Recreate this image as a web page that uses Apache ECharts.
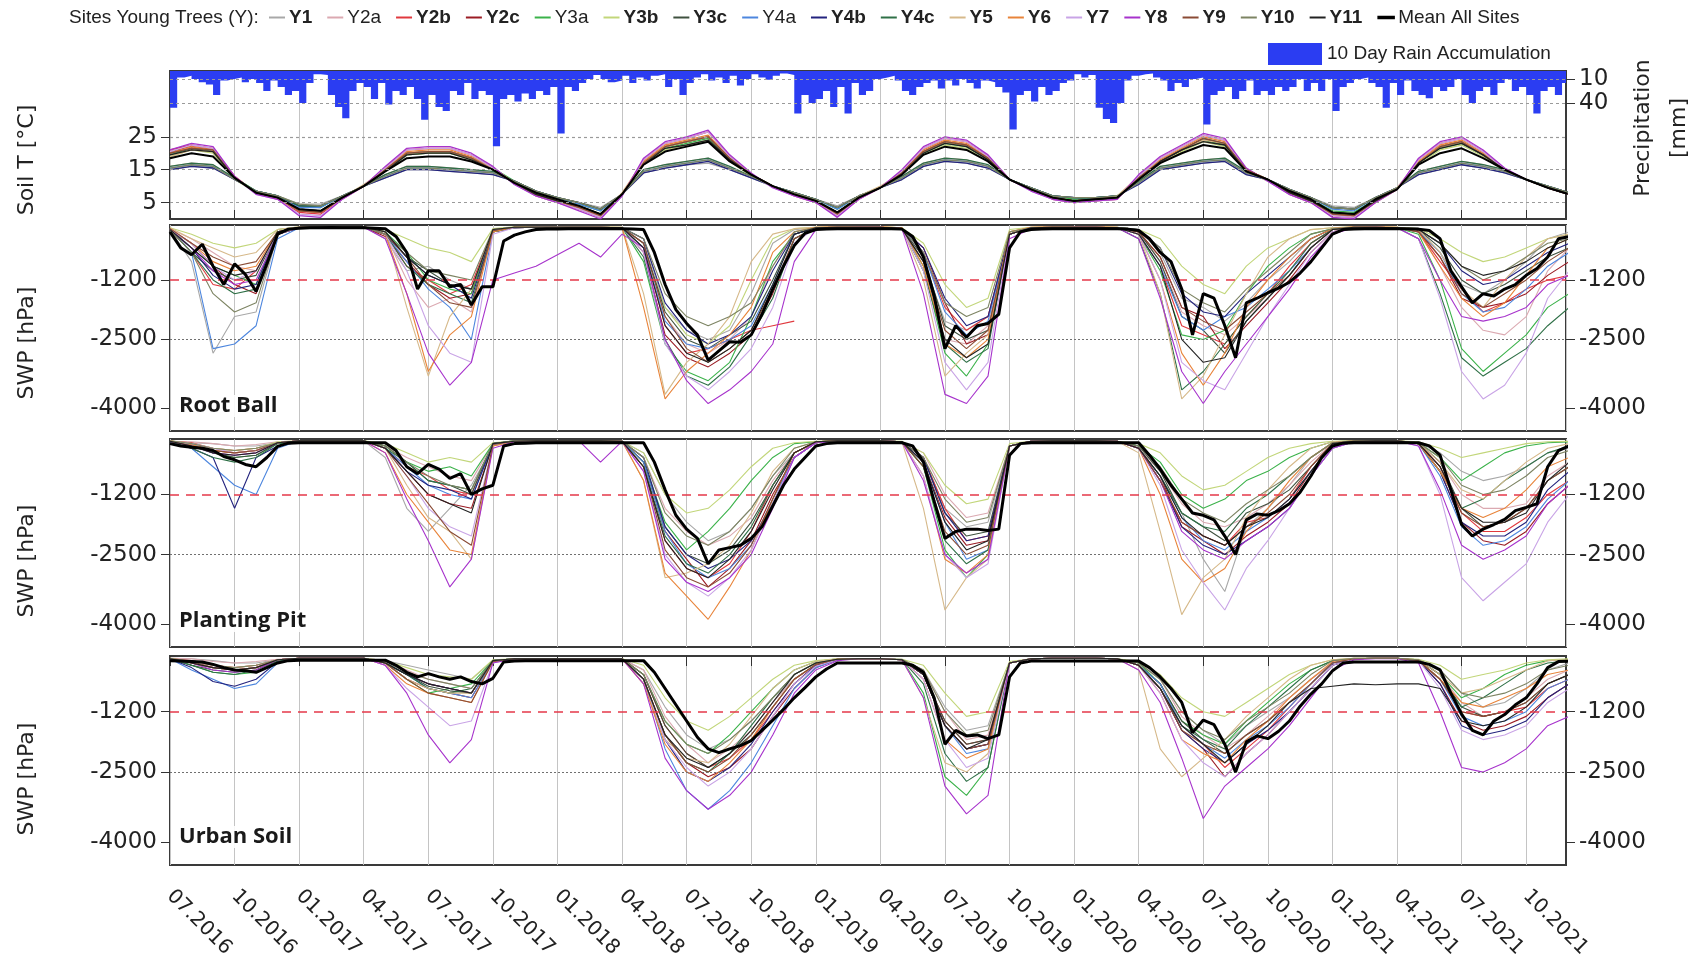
<!DOCTYPE html>
<html>
<head>
<meta charset="utf-8">
<title>Soil temperature and soil water potential of young trees</title>
<script src="https://cdn.jsdelivr.net/npm/echarts@6/dist/echarts.min.js"></script>
<style>
  html, body { margin: 0; padding: 0; background: #fff; }
  #chart { width: 1691px; height: 973px; }
</style>
</head>
<body>
<div id="chart"></div>
<script>
// quarterly tick labels, one every 3 months from 07.2016
const tickLabels = ['07.2016', '10.2016', '01.2017', '04.2017', '07.2017', '10.2017', '01.2018', '04.2018',
  '07.2018', '10.2018', '01.2019', '04.2019', '07.2019', '10.2019', '01.2020', '04.2020', '07.2020', '10.2020',
  '01.2021', '04.2021', '07.2021', '10.2021']

const siteNames = ['Y1', 'Y2a', 'Y2b', 'Y2c', 'Y3a', 'Y3b', 'Y3c', 'Y4a', 'Y4b', 'Y4c', 'Y5', 'Y6', 'Y7', 'Y8', 'Y9', 'Y10', 'Y11']
const siteColors = ['#a8a8a8', '#dba9b1', '#e0393e', '#9b1c24', '#3bb24a', '#c2d67a', '#3f513f', '#4d86de', '#23237e',
  '#2f7047', '#d6b98a', '#e8843a', '#c9a4e6', '#a733cc', '#8a4b35', '#7d8463', '#222222']
const siteBold = [true, false, true, true, false, true, true, false, true, true, true, true, true, true, true, true, true]

// 10 day rain accumulation [mm], three values per month from 07.2016
const rainAccum = [
  46,8,6, 10,14,17, 30,12,10, 8,14,10, 15,25,12, 20,30,25, 40,15,4, 5,30,45, 59,25,15, 20,35,15,
  42,25,30, 20,35,61, 30,45,50, 25,30,15, 35,25,30, 94,35,30, 38,28,35, 25,30,20, 78,20,25, 15,10,5,
  10,14,12, 6,15,8, 12,6,4, 20,10,30, 15,8,4, 12,8,15, 6,18,10, 4,8,11, 6,3,5, 53,30,40,
  35,25,45, 20,53,15, 30,25,10, 8,6,12, 25,30,20, 15,12,22, 12,18,10, 15,22,12, 14,20,27, 73,30,25,
  38,20,30, 25,15,12, 4,8,5, 46,60,65, 40,12,6, 4,3,8, 12,25,15, 20,10,8, 67,30,25, 20,35,25,
  12,30,25, 30,20,25, 20,10,25, 15,25,10, 50,20,15, 10,8,15, 20,46,15, 30,12,25, 30,34,20, 25,20,10,
  30,40,25, 20,30,15, 10,25,20, 30,53,25, 20,30,15, 18]

// soil temperature [°C], monthly from 07.2016
const tMean = [18.5,20,19,12.5,8, 6.5,3,2.5,6.5,10, 14.5,18.5,19,19,17.5, 15,11,8,6,4, 1.5,7.5,16.5,20.5,22, 23.5,17.5,13.5,10,7.5, 5.5,2,6.5,9.5,13.5, 19.5,22,21,17.5,12, 9,6.5,5.5,6,6.5, 12,17,20,22.5,21.5, 14.5,12,8.5,6,2, 1.5,6,9,16.5,20, 21.5,18.5,15,12,9.5, 7.5]
const tY1 = [15,16,15.5,12,8.5, 7,4.5,4.5,7,10, 12.5,15,15,14.5,14, 13.5,11.5,8.5,6.5,5, 3.5,7.5,14,15.5,16.5, 17,15,12.5,10,8, 6,4,7,9.5,12, 16,17.5,17,15.5,12, 9.5,7,6.5,6.5,7, 11,15,16,17,17.5, 13.5,12,9,6.5,4, 3.5,6.5,9.5,13.5,15, 16.5,15.5,14,12,10, 8]
const tY2a = [16,17,16.5,12,8.5, 7,4,4,7,10, 13.5,16,16,15.5,15, 14,11.5,8.5,6.5,5, 3,7.5,15,16.5,17.5, 18.5,15.5,13,10,8, 6,3.5,7,9.5,13, 17,18.5,18,16,12, 9.5,7,6.5,6.5,7, 11.5,16,17,18,18.5, 14,12,9,6.5,3.5, 3,6.5,9.5,14.5,16, 17.5,16.5,14.5,12,10, 8]
const tY2b = [21,22.5,21.5,13,8, 6,2,1.5,6,10, 15.5,21,21.5,21.5,19.5, 15.5,11,7,5,3, 0.5,7.5,18,23,24.5, 26.5,19,13.5,10,7, 5,1,6,9.5,14.5, 21.5,24.5,23.5,19,12, 9,6,5,5.5,6, 13,18.5,22,25.5,24, 15,12,7.5,5,1, 0.5,5,9,18,23, 24.5,20.5,15,12,9.5, 7.5]
const tY2c = [20.5,22,21,12.5,8, 6.5,2.5,2,6.5,10, 15,20,20.5,20.5,18.5, 15,11,7.5,5.5,3.5, 1,7.5,17,22,23.5, 25,18.5,13.5,10,7.5, 5.5,1.5,6.5,9.5,14, 20.5,23.5,22.5,18.5,12, 9,6.5,5.5,6,6.5, 12.5,17.5,21,24,23, 15,12,8,5.5,1.5, 1,5.5,9,17,22, 23.5,19.5,15,12,9.5, 7.5]
const tY3a = [19.5,21.5,20.5,12.5,8.5, 7,4,3.5,7,10, 14.5,19.5,20,20,18.5, 15.5,11.5,8,6,4.5, 2.5,7.5,17,21.5,23, 24.5,18,13.5,10,8, 6,3,7,9.5,13.5, 20,23,22,18,12, 9.5,7,6,6.5,7, 12,17.5,21,24,22.5, 15,12,8.5,6,2.5, 2,6,9,17,21.5, 23,19.5,15,12,9.5, 7.5]
const tY3b = [19,21,20,12,8, 6.5,3,2.5,6.5,10, 14.5,19.5,20,20,18, 15,11,7.5,5.5,4, 1.5,7.5,16.5,21,22.5, 24,17.5,13,10,7.5, 5.5,2,6.5,9.5,13.5, 19.5,22.5,21.5,17.5,12, 9,6.5,5.5,6,6.5, 12,17,20.5,23.5,22, 14.5,11.5,8,5.5,2, 1.5,5.5,9,16.5,21, 22.5,19,14.5,12,9.5, 7.5]
const tY3c = [20,21.5,20.5,12.5,8, 6.5,3,2.5,6.5,10, 15,20,20.5,20.5,18.5, 15,11,7.5,5.5,3.5, 1.5,7.5,17,22,23.5, 25,18,13.5,10,7.5, 5.5,2,6.5,9.5,14, 20.5,23.5,22.5,18,12, 9,6.5,5.5,6,6.5, 12.5,17.5,21,24.5,23, 15,12,8,5.5,1.5, 1,5.5,9,17,22, 23.5,19.5,15,12,9.5, 7.5]
const tY4a = [15.5,16.5,16,12,8.5, 7,3.5,3.5,7,10, 13,15.5,15.5,15,14.5, 14,11.5,8.5,6.5,4.5, 2.5,7.5,14.5,16,17, 18,15.5,13,10,8, 6,3,7,9.5,12.5, 16.5,18,17.5,16,12, 9.5,7,6.5,6.5,7, 11,15.5,16.5,17.5,18, 14,12,9,6.5,3, 2.5,6.5,9.5,14,15.5, 17,16,14.5,12,10, 8]
const tY4b = [15,16,15.5,12,8.5, 7,4,4,7,10, 12.5,15,15,14.5,14, 13.5,11.5,8.5,6.5,5, 3,7.5,14,15.5,16.5, 17.5,15,12.5,10,8, 6,3.5,7,9.5,12, 16,17.5,17,15.5,12, 9.5,7,6.5,6.5,7, 10.5,15,16,17,17.5, 13.5,12,9,6.5,3.5, 3,6.5,9.5,13.5,15, 16.5,15.5,14,12,10, 8]
const tY4c = [16,17,16.5,12.5,8.5, 7,4,4,7,10, 13.5,16,16,15.5,15, 14.5,11.5,8.5,6.5,5, 3,7.5,15,16.5,17.5, 18.5,16,13,10,8, 6,3.5,7,9.5,13, 17,18.5,18,16.5,12, 9.5,7,6.5,6.5,7, 11.5,16,17,18,18.5, 14.5,12,9,6.5,3.5, 3,6.5,9.5,14.5,16, 17.5,16.5,15,12,10, 8]
const tY5 = [19,21,20.5,12.5,8, 6.5,2.5,2,6.5,10.5, 15,20,20.5,20.5,18.5, 15.5,11,7.5,5.5,3.5, 1,8,17.5,22,23.5, 25,18.5,13.5,10,7.5, 5.5,1.5,7,10,14, 20.5,23.5,22.5,18.5,12, 9,6.5,5.5,6,7, 13,18,21,24,23, 15,12,8,5.5,1.5, 1,6,9.5,17.5,22, 23.5,20,15,12,9.5, 7.5]
const tY6 = [20,22,21,12.5,8, 6.5,2.5,2,6.5,10, 15,20.5,21,21,19, 15.5,11,7.5,5.5,3.5, 1,7.5,17.5,22.5,24, 25.5,18.5,13.5,10,7.5, 5.5,1.5,6.5,9.5,14, 21,24,23,18.5,12, 9,6.5,5.5,6,6.5, 12.5,18,21.5,25,23.5, 15,12,8,5.5,1.5, 1,5.5,9,17.5,22.5, 24,20,15,12,9.5, 7.5]
const tY7 = [20.5,22.5,21.5,12.5,7.5, 6,1.5,1,6,10, 15.5,21,21.5,21.5,19.5, 15.5,10.5,7,5,3, 0.5,7,18,23,24.5, 26.5,19,13.5,9.5,7, 5,1,6,9.5,14.5, 21.5,24.5,23.5,19,12, 8.5,6,5,5.5,6, 13,18.5,22,25.5,24, 15,11.5,7.5,5,1, 0.5,5,9,18,23, 24.5,20.5,15,12,9.5, 7.5]
const tY8 = [21,23,22,13,7.5, 6,1,0.5,6,10, 16,21.5,22,22,20, 16,10.5,7,5,2.5, 0,7,18.5,23.5,25, 27,19.5,14,9.5,7, 5,0.5,6,9.5,15, 22,25,24,19.5,12, 8.5,6,5,5.5,6, 13.5,19,22.5,26,24.5, 15.5,11.5,7.5,5,0.5, 0,5,9,18.5,23.5, 25,21,15.5,12,9.5, 7.5]
const tY9 = [20,21.5,21,12.5,8, 6.5,2.5,2,6.5,10, 15,20,20.5,20.5,18.5, 15,11,7.5,5.5,3.5, 1,7.5,17,22,23.5, 25,18.5,13.5,10,7.5, 5.5,1.5,6.5,9.5,14, 20.5,23.5,22.5,18.5,12, 9,6.5,5.5,6,6.5, 12.5,17.5,21,24.5,23, 15,12,8,5.5,1.5, 1,5.5,9,17,22, 23.5,19.5,15,12,9.5, 7.5]
const tY10 = [15.5,16.5,16,12,8.5, 7,4.5,4,7,10, 13,15.5,15.5,15,14.5, 14,11.5,8.5,6.5,5, 3,7.5,14.5,16,17, 18,15.5,13,10,8, 6,3.5,7,9.5,12.5, 16.5,18,17.5,16,12, 9.5,7,6.5,6.5,7, 11,15.5,16.5,17.5,18, 14,12,9,6.5,3.5, 3,6.5,9.5,14,15.5, 17,16,14.5,12,10, 8]
const tY11 = [19.5,21,20.5,12.5,8, 6.5,3,2.5,6.5,10, 14.5,19.5,20,20,18, 15,11,7.5,5.5,4, 1.5,7.5,16.5,21.5,22.5, 24,18,13.5,10,7.5, 5.5,2,6.5,9.5,13.5, 20,23,22,18,12, 9,6.5,5.5,6,6.5, 12,17.5,21,23.5,22.5, 14.5,12,8,5.5,2, 1.5,5.5,9,17,21.5, 23,19.5,15,12,9.5, 7.5]

// soil water potential [hPa], mean of all sites, every half month from 07.2016
const rbMean = [-150,-500,-650,-420,-900,-1300,-850,-1080,-1450,-850,-200,-90,
  -70,-60,-60,-55,-60,-60,-60,-70,-80,
  -250,-600,-1400,-1000,-1000,-1350,-1300,-1750,-1350,-1350,-350,-220,-150,
  -100,-90,-90,-80,-80,-80,-80,-80,-80,-90,-100,
  -600,-1300,-1850,-2150,-2400,-2950,-2750,-2550,-2560,-2400,-1950,-1400,-900,-450,-180,
  -100,-90,-80,-80,-80,-80,-80,-80,-90,
  -250,-700,-1550,-2700,-2200,-2450,-2200,-2150,-1950,-500,-150,
  -100,-90,-80,-80,-80,-80,-80,-80,-80,-90,-120,
  -300,-600,-800,-1400,-2400,-1500,-1600,-2200,-2900,-1700,-1600,-1480,-1380,-1250,-1050,-800,-500,-200,-100,
  -90,-80,-80,-80,-80,-80,-90,-120,
  -300,-1000,-1350,-1700,-1500,-1550,-1400,-1300,-1100,-950,-700,-300,-250]
const ppMean = [-100,-150,-180,-200,-250,-380,-450,-550,-600,-400,-160,-90,
  -80,-80,-80,-80,-80,-80,-80,-80,-80,
  -250,-600,-750,-550,-650,-850,-750,-1200,-1080,-1000,-150,-100,-90,
  -80,-80,-80,-80,-80,-80,-80,-80,-80,-80,-80,
  -500,-1100,-1650,-1950,-2150,-2700,-2400,-2350,-2300,-2150,-1900,-1450,-1000,-650,-400,
  -150,-100,-80,-80,-80,-80,-80,-80,-80,
  -150,-500,-1350,-2150,-2000,-1950,-1950,-1980,-1950,-350,-100,
  -80,-80,-80,-80,-80,-80,-80,-80,-80,-80,-80,
  -350,-650,-1000,-1300,-1600,-1650,-1750,-2100,-2500,-1750,-1620,-1650,-1550,-1400,-1150,-800,-400,-150,-90,
  -80,-80,-80,-80,-80,-80,-80,-150,
  -350,-1100,-1850,-2100,-1950,-1850,-1740,-1550,-1480,-1400,-600,-250,-150]
const usMean = [-100,-110,-120,-130,-180,-250,-300,-320,-350,-250,-150,-100,
  -90,-90,-90,-90,-90,-90,-90,-90,-90,
  -200,-350,-450,-380,-450,-500,-450,-550,-600,-480,-130,-110,-100,
  -100,-100,-100,-100,-100,-100,-100,-100,-100,-100,-100,
  -350,-700,-1050,-1400,-1750,-2000,-2080,-2000,-1930,-1820,-1600,-1380,-1150,-900,-680,
  -450,-280,-150,-150,-150,-150,-150,-150,-150,
  -200,-350,-900,-1900,-1600,-1720,-1700,-1780,-1700,-450,-150,
  -110,-110,-110,-110,-110,-110,-110,-110,-110,-110,-110,
  -250,-450,-700,-1000,-1650,-1380,-1480,-1900,-2500,-1850,-1720,-1780,-1620,-1400,-1080,-820,-600,-320,-150,
  -130,-130,-130,-130,-130,-130,-130,-180,
  -300,-800,-1250,-1600,-1700,-1400,-1260,-1050,-900,-600,-250,-120,-110]

// soil water potential [hPa] per site, monthly from 07.2016 -- Root Ball
const rbY1 = [-100,-800,-2800,-2000,-1900, -200,-50,-40,-40,-40, -300,-1000,-900,-1200,-1400, -150,-60,-50,-50,-50, -50,-60,-300,-1800,-2300, -2500,-2300,-1500,-400,-100, -60,-50,-50,-50,-80, -800,-2100,-2300,-2000,-150, -60,-50,-50,-50,-50, -100,-600,-1600,-1800,-2100, -1700,-1200,-800,-300,-80, -50,-50,-60,-100,-600, -1300,-1500,-1200,-800,-300, -150]
const rbY2a = [-80,-300,-600,-900,-1000, -150,-50,-40,-40,-40, -200,-1200,-1800,-1600,-1900, -100,-50,-50,-50,-50, -50,-50,-400,-2000,-2600, -2800,-2500,-2000,-900,-200, -60,-50,-50,-50,-100, -1000,-2500,-2600,-2200,-200, -60,-50,-50,-50,-60, -150,-800,-1900,-2200,-2400, -2000,-1600,-1000,-400,-100, -50,-50,-60,-150,-900, -1800,-2300,-2400,-2000,-1000, -500]
const rbY2b = [-100,-600,-1300,-1400,-1000, -200,-60,-50,-50,-50, -200,-900,-1200,-1500,-1300, -120,-60,-50,-50,-50, -60,-60,-500,-2200,-2800, -2700,-2500,-2300,-2200,-2100, null,-60,-50,-50,-80, -600,-1800,-2300,-2000,-200, -60,-50,-50,-50,-60, -200,-900,-2200,-2400,-2600, -2000,-1500,-900,-400,-100, -50,-50,-60,-150,-800, -1400,-1900,-1700,-1400,-1200, -1100]
const rbY2c = [-100,-400,-900,-1300,-1500, -200,-60,-50,-50,-50, -250,-800,-1300,-1600,-1500, -150,-60,-50,-50,-50, -50,-60,-600,-2400,-2900, -3100,-2800,-2400,-1500,-300, -60,-50,-50,-50,-80, -500,-1700,-2600,-2400,-200, -60,-50,-50,-50,-60, -150,-700,-1800,-2000,-2700, -2200,-1700,-1200,-600,-150, -50,-50,-60,-120,-700, -1600,-1800,-1700,-1500,-1100, -800]
const rbY3a = [-80,-500,-900,-1100,-1300, -100,-50,-40,-40,-40, -150,-600,-1200,-1400,-1500, -100,-50,-50,-50,-50, -50,-60,-800,-2600,-3200, -3400,-3000,-2000,-800,-200, -60,-50,-50,-50,-80, -900,-2800,-3300,-2600,-200, -60,-50,-50,-50,-60, -200,-1000,-2400,-2500,-2300, -1500,-900,-500,-200,-80, -50,-50,-60,-200,-1200, -2700,-3200,-2800,-2400,-1800, -1500]
const rbY3b = [-60,-200,-400,-500,-400, -100,-40,-40,-40,-40, -100,-300,-500,-600,-800, -80,-40,-40,-40,-40, -40,-50,-500,-1800,-2400, -2600,-2200,-1200,-300,-80, -50,-40,-40,-40,-60, -400,-1300,-1800,-1600,-100, -50,-40,-40,-40,-50, -100,-300,-900,-1300,-1500, -900,-500,-300,-100,-60, -40,-40,-50,-80,-300, -600,-800,-700,-500,-300, -200]
const rbY3c = [-100,-600,-1000,-1200,-1100, -150,-50,-40,-40,-40, -150,-700,-1000,-1300,-1400, -100,-50,-50,-50,-50, -50,-60,-400,-1900,-2500, -2700,-2400,-2100,-1200,-200, -60,-50,-50,-50,-80, -700,-2200,-2500,-2300,-200, -60,-50,-50,-50,-60, -150,-800,-2000,-2300,-2800, -2100,-1600,-1100,-500,-100, -50,-50,-60,-100,-500, -1200,-1500,-1300,-1000,-700, -500]
const rbY4a = [-80,-600,-2700,-2600,-2200, -300,-60,-50,-50,-50, -200,-800,-1400,-1800,-2500, -150,-60,-50,-50,-50, -50,-60,-500,-2100,-2600, -2700,-2500,-2200,-1300,-200, -60,-50,-50,-50,-80, -600,-1900,-2400,-2100,-200, -60,-50,-50,-50,-60, -200,-900,-2000,-2300,-2000, -1800,-1400,-1000,-500,-100, -50,-50,-60,-150,-600, -1500,-1900,-1800,-1400,-900, -600]
const rbY4b = [-100,-500,-1100,-1400,-1300, -200,-60,-50,-50,-50, -200,-700,-1100,-1300,-1600, -120,-60,-50,-50,-50, -50,-60,-300,-1700,-2300, -2600,-2400,-2000,-1000,-200, -60,-50,-50,-50,-80, -500,-1600,-2200,-2000,-200, -60,-50,-50,-50,-60, -100,-500,-1500,-1900,-2000, -1500,-1100,-700,-300,-80, -50,-50,-60,-100,-400, -1000,-1300,-1200,-900,-600, -400]
const rbY4c = [-100,-600,-1200,-1500,-1400, -200,-60,-50,-50,-50, -200,-900,-1300,-1500,-1700, -150,-60,-50,-50,-50, -50,-60,-700,-2500,-3300, -3500,-3100,-2400,-1600,-300, -60,-50,-50,-50,-80, -1000,-2600,-3000,-2700,-200, -60,-50,-50,-50,-60, -300,-1500,-3600,-3200,-2600, -2000,-1500,-1000,-400,-100, -50,-50,-60,-300,-1500, -2900,-3300,-3000,-2700,-2200, -1800]
const rbY5 = [-60,-300,-500,-700,-600, -100,-40,-40,-40,-40, -150,-1800,-3300,-2000,-1400, -100,-50,-50,-50,-50, -40,-50,-1500,-3700,-3000, -2600,-2000,-800,-200,-80, -50,-40,-40,-40,-60, -1200,-3300,-2800,-2400,-150, -50,-40,-40,-40,-50, -200,-1500,-3800,-3300,-2400, -1500,-700,-300,-100,-60, -40,-40,-50,-100,-600, -1400,-1800,-1200,-700,-300, -200]
const rbY6 = [-80,-400,-800,-1000,-900, -150,-50,-40,-40,-40, -200,-1500,-3200,-2400,-2000, -150,-50,-50,-50,-50, -50,-60,-1800,-3800,-3200, -2800,-2400,-1800,-600,-150, -50,-40,-40,-40,-60, -900,-2600,-2900,-2500,-150, -50,-40,-40,-40,-50, -200,-1200,-2800,-3500,-2800, -1800,-1200,-700,-300,-80, -40,-40,-50,-150,-900, -1600,-2000,-1700,-1100,-500, -300]
const rbY7 = [-100,-400,-900,-1200,-1000, -200,-50,-40,-40,-40, -200,-1000,-2200,-2800,-3000, -200,-60,-50,-50,-50, -50,-60,-600,-2600,-3300, -3600,-3200,-2700,-1800,-400, -60,-50,-50,-50,-80, -1000,-3000,-3600,-3000,-200, -60,-50,-50,-50,-60, -200,-1200,-3000,-3400,-3600, -2800,-2000,-1300,-600,-150, -50,-50,-60,-300,-1600, -3200,-3800,-3500,-2800,-1600, -1000]
const rbY8 = [-100,-500,-1000,-1300,-1200, -200,-60,-50,-50,-50, -300,-1500,-2800,-3500,-3000, -1200,-1050,-900,-650,-400, -700,-200,-500,-2500,-3400, -3900,-3600,-3200,-2600,-800, -100,-60,-50,-50,-80, -1500,-3700,-3900,-3300,-300, -80,-60,-50,-50,-60, -300,-1600,-3200,-3900,-3200, -2600,-2000,-1400,-700,-200, -60,-50,-60,-300,-1200, -2000,-2100,-2000,-1800,-1300, -1100]
const rbY9 = [-80,-400,-700,-900,-800, -150,-50,-40,-40,-40, -200,-700,-1300,-1700,-1800, -120,-50,-50,-50,-50, -50,-60,-400,-2000,-2700, -3000,-2700,-2300,-1400,-300, -60,-50,-50,-50,-80, -800,-2300,-2700,-2300,-200, -60,-50,-50,-50,-60, -150,-700,-1800,-2100,-2300, -1900,-1500,-1100,-500,-100, -50,-50,-60,-150,-700, -1500,-1800,-1500,-1200,-800, -500]
const rbY10 = [-100,-600,-1500,-1900,-1700, -200,-50,-40,-40,-40, -200,-600,-1000,-1100,-1200, -100,-50,-50,-50,-50, -50,-60,-300,-1500,-2000, -2200,-2000,-1700,-900,-150, -60,-50,-50,-50,-80, -600,-1700,-2000,-1800,-150, -60,-50,-50,-50,-60, -100,-500,-1400,-1700,-1900, -1400,-1000,-600,-200,-80, -50,-50,-60,-100,-400, -900,-1200,-1000,-700,-400, -300]
const rbY11 = [-100,-500,-900,-1100,-1000, -150,-50,-40,-40,-40, -150,-700,-1100,-1300,-1400, -100,-50,-50,-50,-50, -50,-60,-500,-2200,-2800, -3000,-2700,-2300,-1300,-200, -60,-50,-50,-50,-80, -800,-2500,-2900,-2600,-200, -60,-50,-50,-50,-60, -200,-900,-2500,-3000,-2900, -2100,-1600,-1100,-500,-100, -50,-50,-60,-100,-400, -900,-1100,-1000,-800,-500, -300]

// Planting Pit
const ppY1 = [-50,-80,-100,-150,-150, -80,-40,-40,-40,-40, -400,-1500,-2000,-1500,-1000, -150,-50,-40,-40,-40, -40,-50,-300,-1200,-1800, -2200,-2000,-1500,-800,-300, -80,-40,-40,-40,-60, -400,-1500,-1900,-1800,-150, -50,-40,-40,-40,-50, -200,-800,-1600,-2600,-3300, -1900,-1500,-1000,-400,-100, -50,-40,-40,-80,-300, -700,-900,-800,-600,-300, -200]
const ppY2a = [-50,-60,-100,-150,-120, -60,-40,-40,-40,-40, -150,-400,-600,-800,-900, -100,-50,-40,-40,-40, -40,-50,-400,-1500,-2000, -2300,-2100,-1700,-900,-300, -80,-40,-40,-40,-60, -300,-1200,-1700,-1600,-150, -50,-40,-40,-40,-50, -200,-700,-1400,-1800,-1900, -1700,-1400,-1000,-500,-100, -50,-40,-40,-80,-500, -1200,-1500,-1500,-1400,-800, -500]
const ppY2b = [-50,-80,-200,-250,-200, -80,-40,-40,-40,-40, -200,-600,-800,-1100,-1200, -100,-50,-40,-40,-40, -40,-50,-600,-2200,-2800, -3000,-2700,-2000,-1000,-300, -80,-40,-40,-40,-60, -400,-1500,-2200,-2100,-150, -50,-40,-40,-40,-50, -200,-900,-1800,-2100,-2300, -1800,-1700,-1300,-600,-100, -50,-40,-40,-80,-600, -1600,-2000,-2000,-1700,-1200, -900]
const ppY2c = [-50,-100,-250,-300,-250, -80,-40,-40,-40,-40, -200,-700,-1200,-1400,-1500, -120,-50,-40,-40,-40, -40,-50,-500,-2000,-2600, -3200,-2800,-2200,-1200,-400, -80,-40,-40,-40,-60, -500,-1700,-2300,-2200,-150, -50,-40,-40,-40,-50, -200,-800,-1900,-2200,-2500, -2100,-1800,-1400,-700,-150, -50,-40,-40,-100,-700, -1800,-2200,-2300,-2000,-1400, -1000]
const ppY3a = [-40,-150,-300,-400,-350, -100,-40,-40,-40,-40, -150,-500,-700,-600,-800, -100,-40,-40,-40,-40, -40,-50,-500,-1800,-2400, -2000,-1500,-900,-400,-100, -60,-40,-40,-40,-60, -600,-2400,-3000,-2500,-150, -50,-40,-40,-40,-50, -150,-500,-1200,-1500,-1300, -900,-700,-400,-200,-60, -40,-40,-40,-80,-400, -900,-600,-300,-150,-80, -60]
const ppY3b = [-40,-100,-200,-250,-200, -60,-40,-40,-40,-40, -100,-300,-500,-400,-500, -80,-40,-40,-40,-40, -40,-50,-300,-1200,-1600, -1500,-1100,-600,-200,-80, -50,-40,-40,-40,-50, -300,-1000,-1400,-1300,-100, -50,-40,-40,-40,-50, -100,-300,-800,-1100,-1000, -700,-400,-200,-100,-50, -40,-40,-40,-60,-200, -400,-300,-200,-100,-60, -50]
const ppY3c = [-50,-120,-300,-400,-350, -80,-40,-40,-40,-40, -150,-500,-900,-1000,-1200, -100,-40,-40,-40,-40, -40,-50,-500,-1900,-2500, -2700,-2400,-1800,-1000,-300, -60,-40,-40,-40,-60, -400,-1600,-2100,-2000,-150, -50,-40,-40,-40,-50, -150,-700,-1600,-1900,-2200, -1600,-1400,-1100,-600,-100, -50,-40,-40,-80,-500, -1500,-1900,-1800,-1500,-900, -600]
const ppY4a = [-50,-200,-600,-1000,-1200, -200,-40,-40,-40,-40, -200,-600,-1000,-1200,-1300, -120,-50,-40,-40,-40, -40,-50,-500,-2000,-2700, -3000,-2800,-2300,-1300,-400, -80,-40,-40,-40,-60, -500,-1800,-2600,-2400,-150, -50,-40,-40,-40,-50, -200,-800,-1700,-2200,-2400, -2000,-1700,-1300,-700,-150, -50,-40,-40,-100,-800, -1900,-2300,-2200,-1900,-1300, -900]
const ppY4b = [-80,-200,-400,-1500,-400, -150,-50,-40,-40,-40, -200,-700,-1000,-1100,-1300, -100,-50,-40,-40,-40, -40,-50,-400,-1900,-2500, -2800,-2600,-2200,-1400,-400, -80,-40,-40,-40,-60, -400,-1600,-2200,-2100,-150, -50,-40,-40,-40,-50, -200,-900,-1900,-2300,-2500, -2200,-1900,-1500,-800,-200, -60,-40,-40,-100,-700, -1800,-2100,-2100,-1800,-1100, -700]
const ppY4c = [-50,-200,-400,-500,-400, -100,-40,-40,-40,-40, -200,-500,-900,-1000,-1100, -100,-50,-40,-40,-40, -40,-50,-600,-2100,-2700, -2900,-2500,-1900,-1000,-300, -60,-40,-40,-40,-60, -600,-2200,-2700,-2400,-150, -50,-40,-40,-40,-50, -200,-800,-1600,-1900,-2000, -1500,-1200,-800,-400,-80, -40,-40,-40,-100,-700, -1500,-1300,-900,-600,-300, -150]
const ppY5 = [-40,-100,-200,-300,-250, -80,-40,-40,-40,-40, -200,-1000,-1700,-2000,-2600, -150,-50,-40,-40,-40, -40,-50,-900,-3000,-2900, -2700,-2300,-1600,-700,-200, -60,-40,-40,-40,-60, -1500,-3700,-3000,-2600,-150, -50,-40,-40,-40,-50, -300,-2000,-3800,-3000,-2600, -1700,-1100,-600,-200,-60, -40,-40,-40,-80,-500, -1100,-1300,-900,-500,-200, -100]
const ppY6 = [-40,-120,-250,-300,-250, -80,-40,-40,-40,-40, -300,-1200,-1800,-2400,-2500, -150,-50,-40,-40,-40, -40,-50,-900,-2900,-3400, -3900,-3200,-2400,-1300,-300, -60,-40,-40,-40,-60, -800,-2600,-2900,-2500,-150, -50,-40,-40,-40,-50, -200,-1200,-2600,-3100,-2800, -2000,-1500,-900,-400,-80, -40,-40,-40,-100,-700, -1500,-1700,-1500,-1100,-600, -400]
const ppY7 = [-50,-100,-200,-300,-250, -80,-40,-40,-40,-40, -200,-800,-1500,-1900,-2100, -120,-50,-40,-40,-40, -40,-50,-700,-2500,-3100, -3400,-3000,-2400,-1400,-400, -80,-40,-40,-40,-60, -800,-2500,-3000,-2700,-150, -50,-40,-40,-40,-50, -200,-1000,-2400,-3100,-3700, -2800,-2200,-1500,-800,-200, -60,-40,-40,-150,-1200, -3000,-3500,-3100,-2700,-1800, -1200]
const ppY8 = [-50,-150,-300,-350,-300, -80,-40,-40,-40,-40, -300,-1300,-2200,-3200,-2600, -200,-60,-40,-40,-40, -500,-50,-700,-2600,-3100, -3300,-3000,-2500,-1500,-400, -80,-40,-40,-40,-60, -900,-2500,-2900,-2600,-150, -50,-40,-40,-40,-50, -200,-900,-2000,-2400,-2600, -2200,-1900,-1500,-800,-200, -60,-40,-40,-150,-1100, -2300,-2600,-2400,-2100,-1400, -1000]
const ppY9 = [-50,-150,-250,-300,-250, -80,-40,-40,-40,-40, -200,-800,-1400,-2000,-2300, -120,-50,-40,-40,-40, -40,-50,-600,-2400,-3000, -3200,-2900,-2300,-1300,-300, -60,-40,-40,-40,-60, -600,-2000,-2500,-2300,-150, -50,-40,-40,-40,-50, -200,-900,-1800,-2100,-2300, -1900,-1600,-1200,-600,-100, -50,-40,-40,-100,-600, -1600,-1900,-1800,-1500,-900, -600]
const ppY10 = [-40,-100,-200,-250,-200, -80,-40,-40,-40,-40, -150,-500,-800,-1000,-1100, -100,-40,-40,-40,-40, -40,-50,-400,-1600,-2100, -2300,-2000,-1500,-800,-200, -60,-40,-40,-40,-60, -400,-1300,-1800,-1700,-150, -50,-40,-40,-40,-50, -150,-600,-1300,-1600,-1800, -1400,-1100,-800,-400,-80, -40,-40,-40,-80,-400, -1000,-1200,-1100,-800,-400, -250]
const ppY11 = [-50,-150,-300,-350,-300, -80,-40,-40,-40,-40, -200,-700,-1200,-1400,-1600, -100,-50,-40,-40,-40, -40,-50,-600,-2200,-2800, -3000,-2600,-2000,-1100,-300, -60,-40,-40,-40,-60, -500,-1800,-2400,-2200,-150, -50,-40,-40,-40,-50, -200,-800,-1700,-2100,-2300, -1900,-1700,-1300,-700,-100, -50,-40,-40,-100,-600, -1500,-1800,-1800,-1600,-900, -500]

// Urban Soil
const usY1 = [-50,-60,-100,-150,-150, -80,-50,-50,-50,-50, -100,-200,-300,-400,-500, -100,-60,-60,-60,-60, -60,-60,-300,-1100,-1700, -2000,-1800,-1400,-900,-500, -200,-80,-60,-60,-80, -300,-1100,-1600,-1500,-150, -60,-50,-50,-50,-60, -150,-500,-1200,-1600,-1900, -1500,-1200,-900,-500,-150, -60,-50,-50,-80,-300, -800,-1100,-1000,-700,-300, -150]
const usY2a = [-50,-60,-120,-150,-120, -70,-50,-50,-50,-50, -100,-300,-500,-600,-700, -100,-60,-60,-60,-60, -60,-60,-300,-1300,-1900, -2300,-2000,-1600,-1000,-500, -200,-80,-60,-60,-80, -300,-1200,-1800,-1700,-150, -60,-50,-50,-50,-60, -150,-500,-1300,-1700,-2000, -1700,-1300,-900,-500,-150, -60,-50,-50,-80,-400, -1000,-1300,-1200,-900,-500, -300]
const usY2b = [-60,-100,-200,-250,-200, -80,-50,-50,-50,-50, -150,-400,-600,-700,-800, -120,-60,-60,-60,-60, -60,-60,-400,-1500,-2100, -2400,-2200,-1800,-1200,-600, -200,-80,-60,-60,-80, -400,-1400,-1900,-1800,-150, -60,-50,-50,-50,-60, -200,-600,-1500,-1900,-2400, -2000,-1600,-1100,-600,-150, -60,-50,-50,-100,-500, -1200,-1300,-1200,-1100,-700, -500]
const usY2c = [-60,-120,-250,-300,-250, -80,-50,-50,-50,-50, -150,-500,-700,-800,-900, -120,-60,-60,-60,-60, -60,-60,-500,-1700,-2300, -2600,-2400,-2000,-1300,-700, -250,-80,-60,-60,-80, -400,-1500,-2000,-1900,-150, -60,-50,-50,-50,-60, -200,-700,-1600,-2000,-2600, -2100,-1700,-1200,-700,-200, -60,-50,-50,-100,-600, -1400,-1600,-1500,-1300,-900, -600]
const usY3a = [-60,-200,-350,-400,-350, -100,-50,-50,-50,-50, -150,-500,-800,-700,-600, -100,-60,-60,-60,-60, -60,-60,-400,-1400,-1900, -2100,-1700,-1200,-700,-300, -120,-60,-60,-60,-80, -800,-2600,-3000,-2400,-150, -60,-50,-50,-50,-60, -150,-600,-1400,-1700,-1900, -1400,-1000,-600,-300,-100, -60,-50,-50,-80,-400, -900,-700,-400,-200,-100, -80]
const usY3b = [-50,-150,-250,-300,-250, -80,-50,-50,-50,-50, -100,-250,-400,-450,-500, -80,-60,-60,-60,-60, -60,-60,-200,-900,-1400, -1600,-1300,-900,-500,-200, -100,-60,-60,-60,-70, -200,-800,-1300,-1200,-120, -60,-50,-50,-50,-60, -120,-400,-900,-1200,-1300, -1000,-700,-400,-200,-80, -50,-50,-50,-70,-200, -500,-400,-300,-150,-80, -60]
const usY3c = [-60,-200,-300,-350,-300, -80,-50,-50,-50,-50, -150,-400,-650,-750,-800, -100,-60,-60,-60,-60, -60,-60,-400,-1500,-2100, -2400,-2100,-1700,-1100,-500, -180,-70,-60,-60,-80, -400,-1400,-1900,-1800,-150, -60,-50,-50,-50,-60, -200,-600,-1400,-1800,-2100, -1700,-1400,-1000,-600,-150, -60,-50,-50,-90,-400, -1100,-1300,-1200,-1000,-600, -400]
const usY4a = [-60,-300,-500,-700,-600, -150,-50,-50,-50,-50, -150,-400,-700,-800,-900, -120,-60,-60,-60,-60, -60,-60,-500,-2000,-2900, -3300,-2900,-2300,-1500,-700, -250,-80,-60,-60,-80, -400,-1500,-2100,-2000,-150, -60,-50,-50,-50,-60, -200,-600,-1500,-1900,-2200, -1800,-1500,-1100,-600,-150, -60,-50,-50,-100,-500, -1300,-1500,-1400,-1200,-700, -500]
const usY4b = [-60,-250,-550,-650,-500, -120,-50,-50,-50,-50, -150,-400,-600,-700,-800, -100,-60,-60,-60,-60, -60,-60,-500,-1800,-2500, -2700,-2400,-1900,-1200,-600, -200,-80,-60,-60,-80, -400,-1500,-2000,-1900,-150, -60,-50,-50,-50,-60, -200,-700,-1600,-2000,-2300, -1900,-1600,-1200,-700,-200, -60,-50,-50,-100,-600, -1500,-1700,-1600,-1400,-900, -600]
const usY4c = [-60,-200,-350,-400,-300, -100,-50,-50,-50,-50, -150,-400,-700,-800,-700, -100,-60,-60,-60,-60, -60,-60,-500,-1700,-2300, -2500,-2100,-1500,-900,-400, -150,-70,-60,-60,-80, -600,-2100,-2700,-2400,-150, -60,-50,-50,-50,-60, -200,-700,-1500,-1800,-2000, -1500,-1100,-700,-300,-100, -60,-50,-50,-100,-500, -1100,-900,-600,-300,-150, -100]
const usY5 = [-50,-120,-200,-250,-200, -80,-50,-50,-50,-50, -150,-500,-700,-800,-800, -100,-60,-60,-60,-60, -60,-60,-600,-1800,-2200, -2300,-1900,-1300,-700,-300, -120,-60,-60,-60,-80, -900,-2300,-2500,-2100,-150, -60,-50,-50,-50,-60, -300,-2000,-2600,-2200,-1800, -1300,-900,-500,-200,-80, -50,-50,-50,-80,-400, -800,-700,-500,-300,-100, -80]
const usY6 = [-50,-150,-250,-300,-250, -80,-50,-50,-50,-50, -200,-600,-800,-900,-1000, -120,-60,-60,-60,-60, -60,-60,-600,-1900,-2500, -2700,-2300,-1800,-1100,-500, -180,-70,-60,-60,-80, -500,-1800,-2200,-2000,-150, -60,-50,-50,-50,-60, -200,-800,-1800,-2100,-2300, -1800,-1400,-900,-500,-120, -60,-50,-50,-90,-500, -1000,-1100,-900,-700,-400, -300]
const usY7 = [-60,-150,-250,-300,-250, -80,-50,-50,-50,-50, -200,-700,-1100,-1500,-1400, -150,-60,-60,-60,-60, -60,-60,-500,-1800,-2400, -2800,-2500,-2000,-1300,-600, -220,-80,-60,-60,-80, -500,-1800,-2400,-2200,-150, -60,-50,-50,-50,-60, -200,-800,-1800,-2300,-2600, -2100,-1700,-1200,-700,-200, -60,-50,-50,-100,-700, -1600,-1800,-1700,-1500,-1000, -700]
const usY8 = [-60,-150,-300,-350,-300, -80,-50,-50,-50,-50, -200,-800,-1700,-2300,-1800, -150,-60,-60,-60,-60, -60,-60,-600,-2200,-2900, -3300,-3000,-2500,-1700,-800, -300,-100,-60,-60,-80, -900,-2800,-3400,-3000,-150, -60,-50,-50,-50,-60, -300,-1000,-2200,-3500,-2800, -2400,-2000,-1500,-900,-300, -80,-60,-60,-150,-1200, -2400,-2500,-2300,-2000,-1500, -1300]
const usY9 = [-60,-150,-250,-300,-250, -80,-50,-50,-50,-50, -150,-500,-800,-900,-1000, -120,-60,-60,-60,-60, -60,-60,-500,-1700,-2300, -2500,-2200,-1700,-1100,-500, -180,-70,-60,-60,-80, -400,-1500,-2000,-1900,-150, -60,-50,-50,-50,-60, -200,-700,-1600,-1900,-2100, -1700,-1400,-1000,-600,-150, -60,-50,-50,-100,-500, -1200,-1300,-1200,-1000,-600, -400]
const usY10 = [-50,-120,-200,-250,-200, -80,-50,-50,-50,-50, -120,-350,-500,-600,-700, -100,-60,-60,-60,-60, -60,-60,-400,-1400,-1900, -2100,-1800,-1400,-900,-400, -150,-70,-60,-60,-70, -300,-1200,-1700,-1600,-150, -60,-50,-50,-50,-60, -150,-500,-1200,-1600,-1800, -1400,-1100,-800,-400,-100, -50,-50,-50,-80,-300, -800,-900,-800,-600,-300, -200]
const usY11 = [-60,-150,-250,-300,-250, -80,-50,-50,-50,-50, -150,-400,-600,-700,-800, -100,-60,-60,-60,-60, -60,-60,-500,-1700,-2200, -2400,-2100,-1600,-1000,-400, -150,-70,-60,-60,-80, -400,-1500,-2000,-1800,-150, -60,-50,-50,-50,-60, -200,-700,-1500,-1900,-2300, -1900,-1500,-1000,-700,-650, -600,-620,-600,-600,-700, -1400,-1500,-1400,-1100,-600, -400]

const tempSites = [tY1, tY2a, tY2b, tY2c, tY3a, tY3b, tY3c, tY4a, tY4b, tY4c, tY5, tY6, tY7, tY8, tY9, tY10, tY11]
const rootBallSites = [rbY1, rbY2a, rbY2b, rbY2c, rbY3a, rbY3b, rbY3c, rbY4a, rbY4b, rbY4c, rbY5, rbY6, rbY7, rbY8, rbY9, rbY10, rbY11]
const plantingPitSites = [ppY1, ppY2a, ppY2b, ppY2c, ppY3a, ppY3b, ppY3c, ppY4a, ppY4b, ppY4c, ppY5, ppY6, ppY7, ppY8, ppY9, ppY10, ppY11]
const urbanSoilSites = [usY1, usY2a, usY2b, usY2c, usY3a, usY3b, usY3c, usY4a, usY4b, usY4c, usY5, usY6, usY7, usY8, usY9, usY10, usY11]

// x is measured in months since 07.2016
const monthly = (arr) => arr.map((v, i) => [i, v])
const halfMonthly = (arr) => arr.map((v, i) => [i / 2, v])
const thirdMonthly = (arr) => arr.map((v, i) => [i / 3, v])

const axisFont = 'DejaVu Sans, Verdana, sans-serif'
const legendFont = '"Liberation Sans", Arial, sans-serif'
const rainColor = '#2b3df2'
const X_MAX = 64.85

const chart = echarts.init(document.getElementById('chart'))

const gridBox = { left: 170, right: 125, show: true, borderColor: '#3a3a3a', borderWidth: 2 }
const grids = [
  { ...gridBox, top: 71, height: 148 },
  { ...gridBox, top: 225, height: 206 },
  { ...gridBox, top: 439, height: 208 },
  { ...gridBox, top: 656, height: 209 },
]

const quarterTicks = tickLabels.map((_, i) => i * 3)
const xBase = {
  type: 'value', min: 0, max: X_MAX, interval: 3,
  splitLine: { show: true, lineStyle: { color: '#c4c4c4', width: 1 } },
  axisLine: { show: false }, axisTick: { show: false }, axisLabel: { show: false },
}
const xAxes = [
  { ...xBase, gridIndex: 0, position: 'top',
    axisTick: { show: true, length: 9, customValues: quarterTicks, lineStyle: { color: '#333' } } },
  { ...xBase, gridIndex: 1 },
  { ...xBase, gridIndex: 2 },
  { ...xBase, gridIndex: 3, position: 'bottom',
    axisTick: { show: true, length: 10, customValues: quarterTicks, lineStyle: { color: '#333' } },
    axisLabel: { show: true, rotate: -45, margin: 28, customValues: quarterTicks,
      fontFamily: axisFont, fontSize: 20, color: '#222',
      formatter: (v) => tickLabels[Math.round(v / 3)] || '' } },
]

function sideAxis(gridIndex, position, min, max, labels, inverse) {
  return {
    type: 'value', gridIndex, position, min, max, inverse: !!inverse,
    splitLine: { show: false },
    axisLine: { show: false },
    axisTick: { show: true, length: 9, customValues: labels, lineStyle: { color: '#333' } },
    axisLabel: { show: true, customValues: labels, margin: 13, fontFamily: axisFont, fontSize: 23, color: '#222',
      formatter: (v) => String(v) },
  }
}
const swpTicks = [-4000, -2500, -1200]
const yAxes = [
  sideAxis(0, 'left', 0, 45, [5, 15, 25]),
  sideAxis(0, 'right', 0, 185, [10, 40], true),
  sideAxis(1, 'left', -4500, 0, swpTicks), sideAxis(1, 'right', -4500, 0, swpTicks),
  sideAxis(2, 'left', -4500, 0, swpTicks), sideAxis(2, 'right', -4500, 0, swpTicks),
  sideAxis(3, 'left', -4500, 0, swpTicks), sideAxis(3, 'right', -4500, 0, swpTicks),
]

const plainMark = { silent: true, symbol: 'none', label: { show: false }, animation: false }
const greyGuide = { color: '#9a9a9a', width: 1.2, type: [3, 3] }

const series = []

// rain, hanging from the top of the first panel
series.push({
  name: '10 Day Rain Accumulation', type: 'line', xAxisIndex: 0, yAxisIndex: 1,
  step: 'end', symbol: 'none', color: rainColor,
  lineStyle: { width: 0 }, areaStyle: { color: rainColor, opacity: 1 },
  data: thirdMonthly(rainAccum), z: 1,
  markLine: { ...plainMark, lineStyle: greyGuide, data: [{ yAxis: 10 }, { yAxis: 40 }] },
})

// soil temperature
siteNames.forEach((name, i) => {
  series.push({
    name, type: 'line', xAxisIndex: 0, yAxisIndex: 0, symbol: 'none', color: siteColors[i],
    lineStyle: { width: 1.3 }, data: monthly(tempSites[i]), z: 3,
  })
})
series.push({
  name: 'Mean All Sites', type: 'line', xAxisIndex: 0, yAxisIndex: 0, symbol: 'none', color: '#000',
  lineStyle: { width: 2 }, data: monthly(tMean), z: 4,
  markLine: { ...plainMark, lineStyle: greyGuide, data: [{ yAxis: 5 }, { yAxis: 15 }, { yAxis: 25 }] },
})

// soil water potential panels
const swpPanels = [
  { sites: rootBallSites, mean: rbMean },
  { sites: plantingPitSites, mean: ppMean },
  { sites: urbanSoilSites, mean: usMean },
]
swpPanels.forEach((panel, p) => {
  const xi = p + 1
  const yi = 2 + p * 2
  siteNames.forEach((name, i) => {
    series.push({
      name, type: 'line', xAxisIndex: xi, yAxisIndex: yi, symbol: 'none', color: siteColors[i],
      lineStyle: { width: 1.1 }, data: monthly(panel.sites[i]), z: 3,
    })
  })
  series.push({
    name: 'Mean All Sites', type: 'line', xAxisIndex: xi, yAxisIndex: yi, symbol: 'none', color: '#000',
    lineStyle: { width: 3 }, data: halfMonthly(panel.mean), z: 5,
    markLine: { ...plainMark, data: [
      { yAxis: -1200, lineStyle: { color: '#e5394a', width: 1.6, type: [9, 7] } },
      { yAxis: -2500, lineStyle: { color: '#707070', width: 1, type: [2, 2] } },
    ] },
  })
})

const panelLabel = (text, y) => ({
  type: 'text', left: 176, top: y, z: 50,
  style: { text, font: 'bold 22px "Open Sans", Lato, sans-serif', fill: '#1a1a1a',
    backgroundColor: 'rgba(255,255,255,0.9)', padding: [0, 4, 0, 3] },
})
const vTitle = (text, x, y) => ({
  type: 'text', x, y, rotation: Math.PI / 2, z: 50,
  style: { text, font: '22px DejaVu Sans, Verdana, sans-serif', fill: '#222', align: 'center', verticalAlign: 'middle' },
})

chart.setOption({
  animation: false,
  backgroundColor: '#fff',
  grid: grids,
  xAxis: xAxes,
  yAxis: yAxes,
  legend: [
    {
      left: 269, top: 8, padding: 0, icon: 'rect', itemWidth: 16, itemHeight: 2, itemGap: 15,
      textStyle: { fontFamily: legendFont, fontSize: 19, color: '#222', padding: [0, 0, 0, -1] },
      data: siteNames.map((n, i) => ({ name: n, textStyle: { fontWeight: siteBold[i] ? 'bold' : 'normal' } }))
        .concat([{ name: 'Mean All Sites', itemStyle: { borderColor: '#000', borderWidth: 1.5 } }]),
    },
    {
      left: 1268, top: 43, padding: 0, itemWidth: 54, itemHeight: 22, icon: 'rect',
      textStyle: { fontFamily: legendFont, fontSize: 19, color: '#222' },
      data: ['10 Day Rain Accumulation'],
    },
  ],
  graphic: [
    { type: 'text', left: 69, top: 8, style: { text: 'Sites Young Trees (Y):', font: '19px "Liberation Sans", Arial, sans-serif', fill: '#222' } },
    vTitle('Soil T [°C]', 27, 160),
    vTitle('SWP [hPa]', 27, 343),
    vTitle('SWP [hPa]', 27, 561),
    vTitle('SWP [hPa]', 27, 779),
    vTitle('Precipitation', 1643, 128),
    vTitle('[mm]', 1679, 128),
    panelLabel('Root Ball', 395),
    panelLabel('Planting Pit', 610),
    panelLabel('Urban Soil', 826),
  ],
  series,
})

window.addEventListener('resize', () => chart.resize())
</script>
</body>
</html>
